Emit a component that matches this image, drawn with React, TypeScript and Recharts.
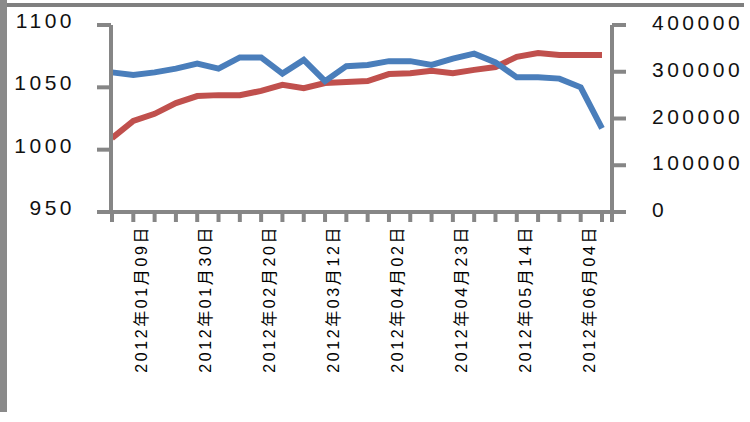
import React from "react";
import { LineChart, Line, XAxis, YAxis } from "recharts";

const categories = [
  "2012年01月02日", "2012年01月09日", "2012年01月16日", "2012年01月23日",
  "2012年01月30日", "2012年02月06日", "2012年02月13日", "2012年02月20日",
  "2012年02月27日", "2012年03月05日", "2012年03月12日", "2012年03月19日",
  "2012年03月26日", "2012年04月02日", "2012年04月09日", "2012年04月16日",
  "2012年04月23日", "2012年04月30日", "2012年05月07日", "2012年05月14日",
  "2012年05月21日", "2012年05月28日", "2012年06月04日", "2012年06月11日",
];

// left axis series (blue)
const blueValues = [
  1062, 1060, 1062, 1065, 1069, 1065, 1074, 1074, 1061, 1072, 1055, 1067,
  1068, 1071, 1071, 1068, 1073, 1077, 1070, 1058, 1058, 1057, 1050, 1017,
];

// right axis series (red)
const redValues = [
  158000, 195000, 210000, 233000, 248000, 250000, 250000, 259000, 272000,
  265000, 276000, 278000, 280000, 295000, 297000, 302000, 297000, 304000,
  310000, 332000, 340000, 336000, 336000, 336000,
];

const leftTicks = [950, 1000, 1050, 1100];
const rightTicks = [0, 100000, 200000, 300000, 400000];

const data = categories.map((c, i) => ({
  date: c,
  blue: blueValues[i],
  red: redValues[i],
}));

const AXIS = "#868686";
const FONT = "'Liberation Sans', Arial, 'Noto Sans CJK SC', sans-serif";

const CategoryTick = (props: any) => {
  const { x, y, payload } = props;
  const index = props.index ?? payload.index;
  const last = index === categories.length - 1;
  return (
    <g>
      {last && (
        <line x1={x + 10} y1={y - 12} x2={x + 10} y2={y - 2} stroke={AXIS} strokeWidth={4} />
      )}
      {index % 3 === 1 && (
        <text
          transform={`translate(${x + 14}, ${y + 1}) rotate(-90)`}
          textAnchor="end"
          fontSize={16}
          letterSpacing={2.6}
          fontFamily={FONT}
          fill="#000"
        >
          {payload.value}
        </text>
      )}
    </g>
  );
};

const LeftTick = (props: any) => {
  const { y, payload } = props;
  return (
    <text x={75} y={y + 3} textAnchor="end" fontSize={21} letterSpacing={3.5} fontFamily={FONT} fill="#111">
      {payload.value}
    </text>
  );
};

const RightTick = (props: any) => {
  const { y, payload } = props;
  return (
    <text x={652} y={y + 5} textAnchor="start" fontSize={21} letterSpacing={3.5} fontFamily={FONT} fill="#111">
      {payload.value}
    </text>
  );
};

export default function App() {
  return (
    <div
      style={{
        position: "absolute",
        left: 0,
        top: 0,
        width: 750,
        height: 422,
        background: "#fff",
        overflow: "hidden",
      }}
    >
      <div style={{ position: "absolute", left: 0, top: 3, width: 744, height: 4, background: "#7f7f7f" }} />
      <div style={{ position: "absolute", left: 0, top: 0, width: 7, height: 412, background: "#8a8a8a" }} />
      <LineChart
        width={750}
        height={422}
        data={data}
        margin={{ top: 25, right: 0, bottom: 0, left: 0 }}
        style={{ position: "absolute", left: 0, top: 0 }}
      >
        <XAxis
          dataKey="date"
          height={210}
          interval={0}
          padding={{ left: 1, right: 10 }}
          axisLine={{ stroke: AXIS, strokeWidth: 4 }}
          tickLine={{ stroke: AXIS, strokeWidth: 4 }}
          tickSize={10}
          tick={<CategoryTick />}
        />
        <YAxis
          yAxisId="left"
          width={111}
          domain={[950, 1100]}
          ticks={leftTicks}
          axisLine={{ stroke: AXIS, strokeWidth: 4 }}
          tickLine={{ stroke: AXIS, strokeWidth: 4 }}
          tickSize={14}
          tick={<LeftTick />}
        />
        <YAxis
          yAxisId="right"
          orientation="right"
          width={138}
          domain={[0, 400000]}
          ticks={rightTicks}
          axisLine={{ stroke: AXIS, strokeWidth: 4 }}
          tickLine={{ stroke: AXIS, strokeWidth: 4 }}
          tickSize={14}
          tick={<RightTick />}
        />
        <Line
          yAxisId="right"
          type="linear"
          dataKey="red"
          stroke="#c0504d"
          strokeWidth={6}
          dot={false}
          isAnimationActive={false}
        />
        <Line
          yAxisId="left"
          type="linear"
          dataKey="blue"
          stroke="#4a7ebb"
          strokeWidth={6}
          dot={false}
          isAnimationActive={false}
        />
      </LineChart>
    </div>
  );
}
